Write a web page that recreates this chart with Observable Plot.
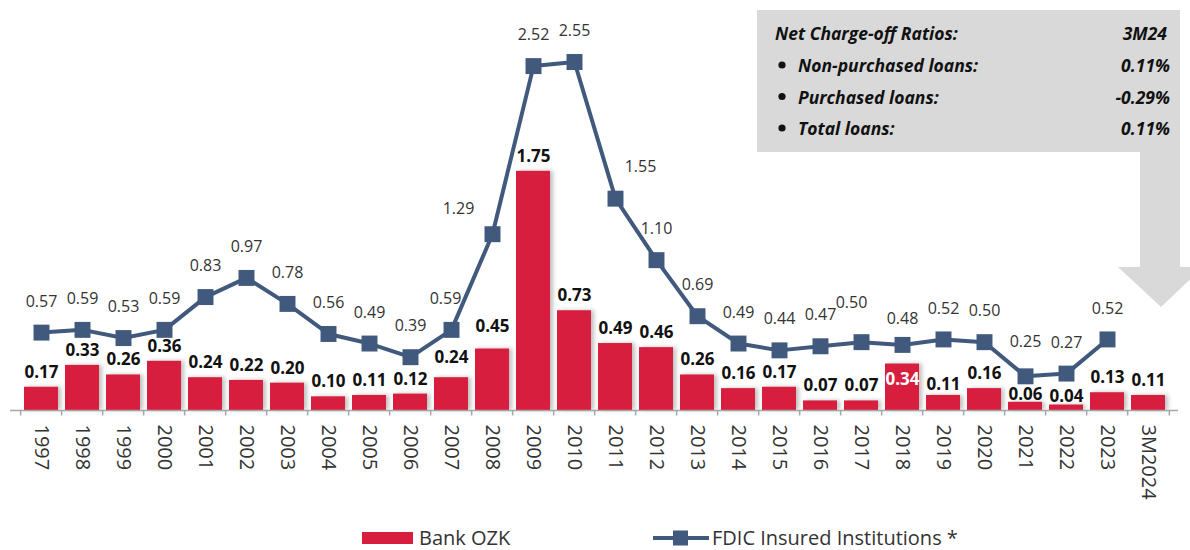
<!DOCTYPE html>
<html>
<head>
<meta charset="utf-8">
<script src="https://cdn.jsdelivr.net/npm/d3@7"></script>
<script src="https://cdn.jsdelivr.net/npm/@observablehq/plot@0.6"></script>
<style>
  html, body { margin: 0; padding: 0; background: #fff; }
  #wrap { position: relative; width: 1190px; height: 550px; overflow: hidden; font-family: "Open Sans", sans-serif; }
  #overlay { position: absolute; left: 0; top: 0; pointer-events: none; }
  .leg { position: absolute; top: 527px; height: 22px; line-height: 22px; display: flex; align-items: center; font-size: 20px; color: #333; white-space: nowrap; }
</style>
</head>
<body>
<div id="wrap">
  <div id="chart"></div>
  <div class="leg" style="left:362px;">
    <svg width="51" height="14" style="margin-right:6px"><rect x="0" y="1" width="51" height="12" fill="#D71E3F"></rect></svg>Bank OZK
  </div>
  <div class="leg" style="left:653px;">
    <svg width="56" height="18" style="margin-right:3px"><line x1="0" x2="56" y1="9" y2="9" stroke="#40597D" stroke-width="4"></line><rect x="20" y="1.5" width="15" height="15" fill="#40597D"></rect></svg>FDIC Insured Institutions *
  </div>
  <svg id="overlay" width="1190" height="550"></svg>
</div>
<script>
const categories = ["1997","1998","1999","2000","2001","2002","2003","2004","2005","2006","2007","2008","2009","2010","2011","2012","2013","2014","2015","2016","2017","2018","2019","2020","2021","2022","2023","3M2024"];
const bankOZK = [0.17,0.33,0.26,0.36,0.24,0.22,0.20,0.10,0.11,0.12,0.24,0.45,1.75,0.73,0.49,0.46,0.26,0.16,0.17,0.07,0.07,0.34,0.11,0.16,0.06,0.04,0.13,0.11];
const fdic = [0.57,0.59,0.53,0.59,0.83,0.97,0.78,0.56,0.49,0.39,0.59,1.29,2.52,2.55,1.55,1.10,0.69,0.49,0.44,0.47,0.50,0.48,0.52,0.50,0.25,0.27,0.52];
const boxTitle = ["Net Charge-off Ratios:", "3M24"];
const boxRows = [["Non-purchased loans:", "0.11%"], ["Purchased loans:", "-0.29%"], ["Total loans:", "0.11%"]];

const rows = categories.map((c, i) => ({cat: c, bank: bankOZK[i], fdic: fdic[i]}));
const fdicRows = rows.filter(d => d.fdic != null);

const W = 1190, H = 525, mL = 10, mR = 12, mT = 0, mB = 115;
const step = (W - mL - mR) / categories.length;
const RED = "#D71E3F", BLUE = "#40597D";

const lineSpecial = {"2008": {dx: -34, dy: -25}, "2011": {dx: 25, dy: -32}, "2017": {dx: -10, dy: -39}, "2018": {dx: 0, dy: -26}, "2021": {dx: 0, dy: -34}, "2007": {dx: -6, dy: -31}};
const barSpecial = {"2021": -8, "2022": -8, "2019": -11, "2008": -22, "2007": -20};
const fmt = v => v.toFixed(2);

const marks = [
  Plot.barY(rows, {x: "cat", y: "bank", fill: RED}),
  Plot.ruleY([0], {stroke: "#a6a6a6", strokeWidth: 1.5}),
  Plot.ruleX(categories, {x: d => d, dx: -step / 2, y1: 0, y2: -0.04, stroke: "#a6a6a6", strokeWidth: 1.5}),
  Plot.ruleX(categories.slice(-1), {x: d => d, dx: step / 2, y1: 0, y2: -0.04, stroke: "#a6a6a6", strokeWidth: 1.5}),
  Plot.axisX({tickSize: 0, tickPadding: 14, tickRotate: 90, fontSize: 20, fill: "#333", label: null}),
  Plot.line(fdicRows, {x: "cat", y: "fdic", stroke: BLUE, strokeWidth: 4}),
  Plot.dot(fdicRows, {x: "cat", y: "fdic", symbol: "square", r: 9, fill: BLUE}),
  Plot.text(fdicRows.filter(d => !lineSpecial[d.cat]), {x: "cat", y: "fdic", text: d => fmt(d.fdic), dy: -31, fontSize: 16, fill: "#333"}),
  ...Object.entries(lineSpecial).map(([k, o]) =>
    Plot.text(fdicRows.filter(d => d.cat === k), {x: "cat", y: "fdic", text: d => fmt(d.fdic), dx: o.dx, dy: o.dy, fontSize: 16, fill: "#333"})),
  Plot.text(rows.filter(d => d.cat !== "2018" && barSpecial[d.cat] == null), {x: "cat", y: "bank", text: d => fmt(d.bank), dy: -15, fontSize: 17, fontWeight: "bold", fill: "#111"}),
  ...Object.entries(barSpecial).map(([k, o]) =>
    Plot.text(rows.filter(d => d.cat === k), {x: "cat", y: "bank", text: d => fmt(d.bank), dy: o, fontSize: 17, fontWeight: "bold", fill: "#111"})),
  Plot.text(rows.filter(d => d.cat === "2018"), {x: "cat", y: "bank", text: d => fmt(d.bank), dy: 16, fontSize: 17, fontWeight: "bold", fill: "#fff"})
];

const chart = Plot.plot({
  width: W, height: H,
  marginTop: mT, marginLeft: mL, marginRight: mR, marginBottom: mB,
  x: {domain: categories, paddingInner: 0.18, paddingOuter: 0.09, label: null, axis: null},
  y: {domain: [0, 3], axis: null},
  style: {fontFamily: "Open Sans, sans-serif", background: "transparent", overflow: "visible"},
  marks
});
document.getElementById("chart").appendChild(chart);
d3.select(chart).selectAll('g[aria-label="bar"]').style("filter", "drop-shadow(3px 0px 2px rgba(0,0,0,0.25))");

// annotation box with arrow
const ov = d3.select("#overlay");
const g = ov.append("g");
g.append("rect").attr("x", 757).attr("y", 10).attr("width", 423).attr("height", 142).attr("fill", "#d9d9d9");
g.append("rect").attr("x", 1140).attr("y", 150).attr("width", 40).attr("height", 118).attr("fill", "#d9d9d9");
g.append("polygon").attr("points", "1118,267 1203,267 1161,307").attr("fill", "#d9d9d9");
const tstyle = t => t.attr("font-family", "Open Sans, sans-serif").attr("font-size", 17.5).attr("font-weight", "bold").attr("font-style", "italic").attr("fill", "#111").attr("dominant-baseline", "central");
tstyle(g.append("text").attr("x", 775).attr("y", 33).text(boxTitle[0]));
tstyle(g.append("text").attr("x", 1167).attr("y", 33).attr("text-anchor", "end").text(boxTitle[1]));
boxRows.forEach((r, i) => {
  const y = 65 + i * 31.5;
  g.append("circle").attr("cx", 782).attr("cy", y).attr("r", 3.6).attr("fill", "#111");
  tstyle(g.append("text").attr("x", 798).attr("y", y).text(r[0]));
  tstyle(g.append("text").attr("x", 1170).attr("y", y).attr("text-anchor", "end").text(r[1]));
});
</script>
</body>
</html>
